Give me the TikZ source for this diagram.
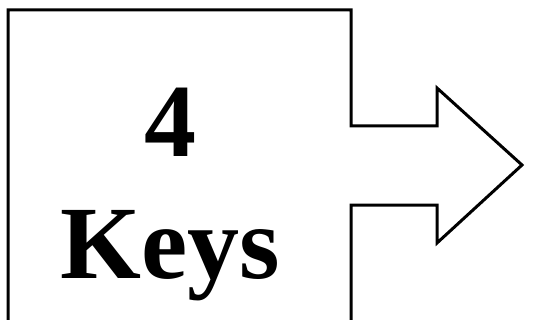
\documentclass[tikz,border=0pt]{standalone}
\usepackage{fontspec}
\setmainfont{Liberation Serif}

\begin{document}
\begin{tikzpicture}[
    x=1pt, y=-1pt,
    outline/.style={draw, line width=3pt, line join=miter},
    bigtext/.style={font=\bfseries\fontsize{104}{121}\selectfont, anchor=base, inner sep=0pt}
]
\useasboundingbox (0,0) rectangle (534,320);
\clip (0,0) rectangle (534,320);
\draw[outline] (8,340) -- (8,10) -- (351,10) -- (351,126) -- (437,126) -- (437,88)
    -- (522,165) -- (437,243) -- (437,205) -- (351,205) -- (351,340);
\node[bigtext] (num) at (170,157) {4};
\node[bigtext] (word) at (170,278) {Keys};
\end{tikzpicture}
\end{document}
